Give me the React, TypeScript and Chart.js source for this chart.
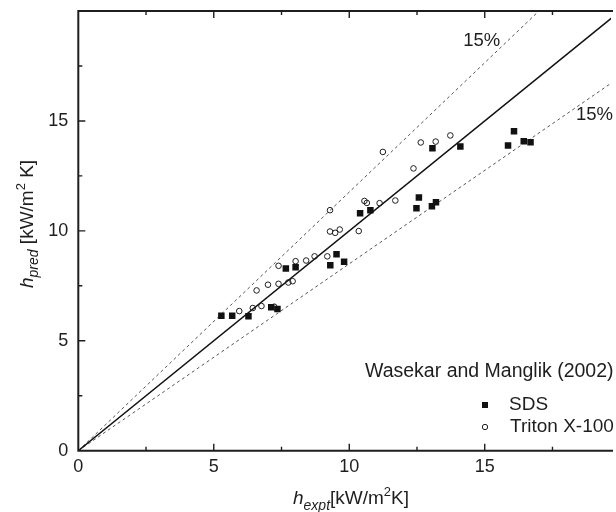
import React, { useEffect, useRef } from "react";
import { Chart, registerables } from "chart.js";

Chart.register(...registerables);

// ---- data ----
const SDS_X = [5.28, 5.68, 6.28, 7.12, 7.35, 7.66, 8.02, 9.3, 9.53, 9.81, 10.4, 10.78, 12.48, 12.57, 13.05, 13.2, 13.07, 14.1, 15.86, 16.08, 16.44, 16.69];
const SDS_Y = [6.14, 6.14, 6.11, 6.52, 6.44, 8.29, 8.34, 8.43, 8.94, 8.59, 10.8, 10.94, 11.03, 11.52, 11.12, 11.3, 13.76, 13.84, 13.88, 14.53, 14.08, 14.03];

const TRITON_X = [5.94, 6.44, 6.76, 7.23, 6.58, 7.0, 7.39, 7.75, 7.91, 7.39, 8.02, 8.41, 8.72, 9.19, 9.29, 9.48, 9.65, 9.29, 10.35, 10.56, 10.65, 11.12, 11.7, 11.24, 12.37, 12.64, 13.19, 13.73];
const TRITON_Y = [6.35, 6.49, 6.58, 6.55, 7.29, 7.55, 7.59, 7.65, 7.71, 8.41, 8.62, 8.65, 8.84, 8.84, 9.97, 9.91, 10.06, 10.94, 9.99, 11.36, 11.27, 11.26, 11.38, 13.59, 12.84, 14.02, 14.06, 14.34];

// y = ratio * x : perfect agreement, +15% band, -15% band
const GUIDE_RATIOS = [1, 1 / 0.85, 0.85];
const GUIDE_END = 20;

const X_MIN = 0;
const X_MAX = 19.66;
const Y_MIN = 0;
const Y_MAX = 20;
const X_TICKS = [0, 5, 10, 15];
const Y_TICKS = [0, 5, 10, 15];
const X_MAJOR_MARKS = [5, 10, 15];
const Y_MAJOR_MARKS = [5, 10, 15];
const X_MINOR_MARKS = [2.5, 7.5, 12.5, 17.5];
const Y_MINOR_MARKS = [2.5, 7.5, 12.5, 17.5];

const BAND_LABELS = ["15%", "15%"];
const BAND_LABEL_X = [14.89, 19.05];
const BAND_LABEL_Y = [18.64, 15.26];

const LEGEND_TITLE = "Wasekar and Manglik (2002)";
const SERIES_NAMES = ["SDS", "Triton X-100"];

const FONT = "'Liberation Sans', Arial, Helvetica, sans-serif";
const INK = "#1e1e1e";

type Part = { t: string; size: number; italic?: boolean; dy?: number };

function drawRich(ctx: CanvasRenderingContext2D, parts: Part[], x: number, y: number) {
  let cx = x;
  for (const p of parts) {
    ctx.font = `${p.italic ? "italic " : ""}${p.size}px ${FONT}`;
    ctx.fillText(p.t, cx, y + (p.dy || 0));
    cx += ctx.measureText(p.t).width;
  }
}

const framePlugin = {
  id: "frame",
  afterDraw(chart: any) {
    const { ctx, chartArea: a, scales } = chart;
    const xs = scales.x;
    const ys = scales.y;
    ctx.save();
    ctx.strokeStyle = INK;
    ctx.lineWidth = 2;
    ctx.beginPath();
    ctx.moveTo(a.right + 2, a.top);
    ctx.lineTo(a.left, a.top);
    ctx.lineTo(a.left, a.bottom);
    ctx.lineTo(a.right + 2, a.bottom);
    ctx.stroke();

    ctx.lineWidth = 1.4;
    ctx.beginPath();
    const xm = (vals: number[], len: number) => {
      for (const v of vals) {
        const p = xs.getPixelForValue(v);
        ctx.moveTo(p, a.bottom);
        ctx.lineTo(p, a.bottom - len);
        ctx.moveTo(p, a.top);
        ctx.lineTo(p, a.top + len);
      }
    };
    const ym = (vals: number[], len: number) => {
      for (const v of vals) {
        const p = ys.getPixelForValue(v);
        ctx.moveTo(a.left, p);
        ctx.lineTo(a.left + len, p);
      }
    };
    xm(X_MAJOR_MARKS, 7);
    xm(X_MINOR_MARKS, 4);
    ym(Y_MAJOR_MARKS, 7);
    ym(Y_MINOR_MARKS, 4);
    ctx.stroke();

    // band labels
    ctx.fillStyle = INK;
    ctx.textAlign = "center";
    ctx.textBaseline = "middle";
    ctx.font = `18.5px ${FONT}`;
    BAND_LABELS.forEach((t, i) => {
      ctx.fillText(t, xs.getPixelForValue(BAND_LABEL_X[i]), ys.getPixelForValue(BAND_LABEL_Y[i]));
    });

    // x axis title
    ctx.textAlign = "left";
    ctx.textBaseline = "alphabetic";
    drawRich(
      ctx,
      [
        { t: "h", size: 19, italic: true },
        { t: "expt", size: 14, italic: true, dy: 6 },
        { t: "[kW/m", size: 19 },
        { t: "2", size: 13, dy: -8 },
        { t: "K]", size: 19 },
      ],
      293,
      504
    );

    // y axis title
    ctx.save();
    ctx.translate(33, 288);
    ctx.rotate(-Math.PI / 2);
    drawRich(
      ctx,
      [
        { t: "h", size: 19, italic: true },
        { t: "pred", size: 14, italic: true, dy: 5 },
        { t: " [kW/m", size: 19 },
        { t: "2", size: 13, dy: -8 },
        { t: " K]", size: 19 },
      ],
      0,
      0
    );
    ctx.restore();

    // legend
    ctx.textBaseline = "middle";
    ctx.font = `19.5px ${FONT}`;
    ctx.fillText(LEGEND_TITLE, 365, 372);
    ctx.font = `19px ${FONT}`;
    ctx.fillText(SERIES_NAMES[0], 509, 405);
    ctx.fillText(SERIES_NAMES[1], 510, 427);
    ctx.fillStyle = "#111";
    ctx.fillRect(482, 402, 6, 6);
    ctx.strokeStyle = INK;
    ctx.lineWidth = 1;
    ctx.beginPath();
    ctx.arc(485, 427, 2.7, 0, Math.PI * 2);
    ctx.stroke();
    ctx.restore();
  },
};

export default function App() {
  const ref = useRef<HTMLCanvasElement>(null);
  useEffect(() => {
    if (!ref.current) return;
    const guides: any[] = GUIDE_RATIOS.map((r, i) => ({
      type: "line",
      label: "guide" + i,
      data: [
        { x: 0, y: 0 },
        { x: GUIDE_END, y: GUIDE_END * r },
      ],
      borderColor: i === 0 ? "#111" : "#555",
      borderWidth: i === 0 ? 1.4 : 1,
      borderDash: i === 0 ? [] : [3, 3],
      pointRadius: 0,
      showLine: true,
      fill: false,
      tension: 0,
    }));
    const tickFont = { family: FONT, size: 18 };
    const chart = new Chart(ref.current, {
      type: "scatter",
      data: {
        datasets: [
          {
            label: SERIES_NAMES[0],
            data: SDS_X.map((x, i) => ({ x, y: SDS_Y[i] })),
            pointStyle: "rect",
            pointRadius: 4.6,
            backgroundColor: "#111",
            borderColor: "#111",
            borderWidth: 0,
          },
          {
            label: SERIES_NAMES[1],
            data: TRITON_X.map((x, i) => ({ x, y: TRITON_Y[i] })),
            pointStyle: "circle",
            pointRadius: 2.8,
            backgroundColor: "rgba(255,255,255,0)",
            borderColor: INK,
            borderWidth: 1,
          },
          ...guides,
        ] as any,
      },
      options: {
        animation: false,
        responsive: false,
        events: [],
        layout: { padding: { top: 11, left: 0, right: 0, bottom: 0 } },
        plugins: { legend: { display: false }, tooltip: { enabled: false } },
        scales: {
          x: {
            type: "linear",
            min: X_MIN,
            max: X_MAX,
            grid: { display: false, drawTicks: false },
            border: { display: false },
            afterBuildTicks: (s: any) => {
              s.ticks = X_TICKS.map((v) => ({ value: v }));
            },
            afterFit: (s: any) => {
              s.height = 61.3;
              s.paddingLeft = 0;
              s.paddingRight = 0;
            },
            ticks: { font: tickFont, color: INK, padding: 6, maxRotation: 0, autoSkip: false, includeBounds: false },
          },
          y: {
            type: "linear",
            min: Y_MIN,
            max: Y_MAX,
            grid: { display: false, drawTicks: false },
            border: { display: false },
            afterBuildTicks: (s: any) => {
              s.ticks = Y_TICKS.map((v) => ({ value: v }));
            },
            afterFit: (s: any) => {
              s.width = 78.3;
              s.paddingTop = 0;
              s.paddingBottom = 0;
            },
            ticks: { font: tickFont, color: INK, padding: 10, autoSkip: false, includeBounds: false },
          },
        },
      } as any,
      plugins: [framePlugin],
    });
    return () => chart.destroy();
  }, []);
  return (
    <div style={{ position: "fixed", left: 0, top: 0, width: 616, height: 512, background: "#fff" }}>
      <canvas ref={ref} width={616} height={512} style={{ display: "block" }} />
    </div>
  );
}
